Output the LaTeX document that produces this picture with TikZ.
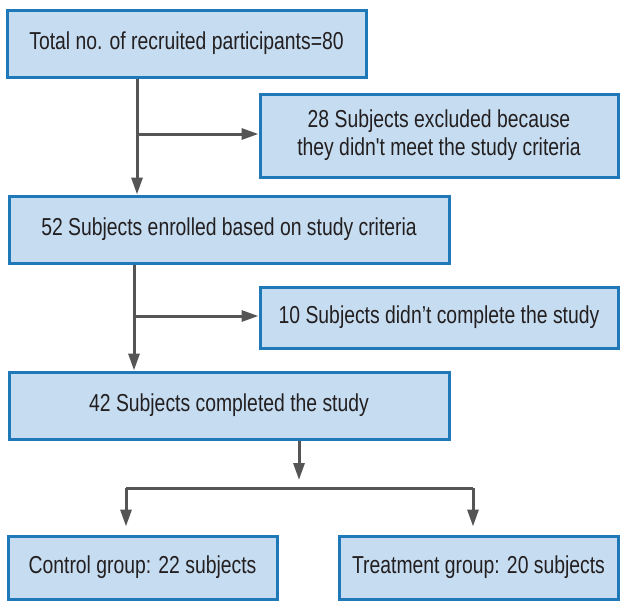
\documentclass[tikz,border=0pt]{standalone}
\usepackage{fontspec}
\newfontfamily\boxfont{Liberation Sans}[FakeStretch=0.79]
\usetikzlibrary{arrows.meta}
\definecolor{boxfill}{HTML}{C6DCF0}
\definecolor{boxline}{HTML}{1F78B8}
\definecolor{arrgray}{HTML}{555555}
\definecolor{txt}{HTML}{231F20}
\tikzset{
  fbox/.style={draw=boxline, line width=3pt, fill=boxfill, inner sep=0pt,
    text=txt, font=\boxfont\fontsize{24.5}{28}\selectfont, align=center},
  arr/.style={draw=arrgray, line width=3pt, -{Triangle[length=17pt,width=11pt]}},
  lin/.style={draw=arrgray, line width=3pt}
}
\begin{document}
\begin{tikzpicture}[x=1pt,y=-1pt]
\useasboundingbox (0,0) rectangle (628,611);
\node[fbox, minimum width=359pt, minimum height=67pt] (b1) at (186.5,43.5) {Total no. of recruited participants=80};
\node[fbox, minimum width=358pt, minimum height=83pt] (b2) at (439,135.5) {28 Subjects excluded because\\they didn't meet the study criteria};
\node[fbox, minimum width=440pt, minimum height=67pt] (b3) at (229,229.5) {52 Subjects enrolled based on study criteria};
\node[fbox, minimum width=358pt, minimum height=61pt] (b4) at (439,317.5) {10 Subjects didn’t complete the study};
\node[fbox, minimum width=440pt, minimum height=67pt] (b5) at (229,405.5) {42 Subjects completed the study};
\node[fbox, minimum width=269pt, minimum height=63pt] (b6) at (142.5,567.5) {Control group: 22 subjects};
\node[fbox, minimum width=279pt, minimum height=63pt] (b7) at (478.5,567.5) {Treatment group: 20 subjects};
\coordinate (j1) at (137,134);
\coordinate (j2) at (134,316);
\coordinate (j3) at (299,488);
\coordinate (j4) at (126,488);
\coordinate (j5) at (473,488);
\draw[arr] (j1 |- b1.south) -- (j1 |- b3.north);
\draw[arr] (j1) -- (j1 -| b2.west);
\draw[arr] (j2 |- b3.south) -- (j2 |- b5.north);
\draw[arr] (j2) -- (j2 -| b4.west);
\draw[arr, shorten >=8pt] (j3 |- b5.south) -- (j3);
\draw[lin] (j4) -- (j5);
\draw[arr, shorten >=8pt] (j4) -- (j4 |- b6.north);
\draw[arr, shorten >=8pt] (j5) -- (j5 |- b7.north);
\end{tikzpicture}
\end{document}
